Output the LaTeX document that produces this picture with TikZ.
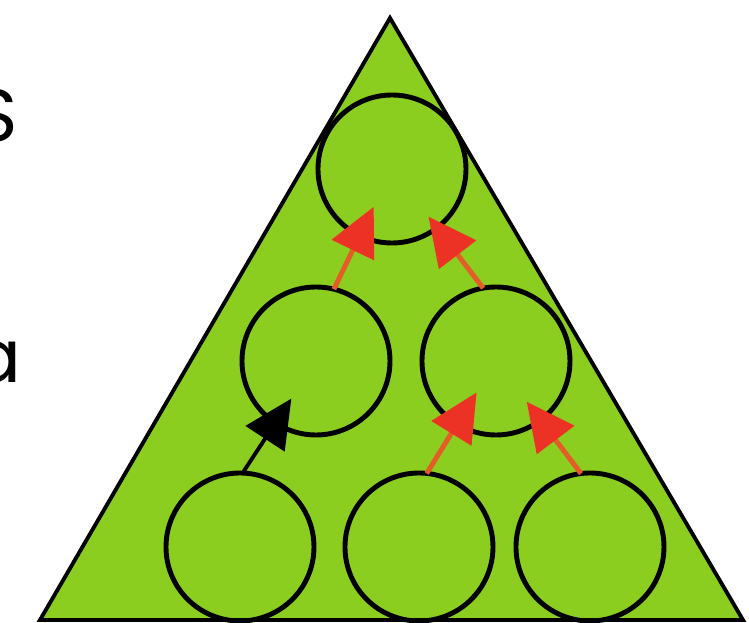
\documentclass[tikz,border=0pt]{standalone}
\usepackage{fontspec}
\newfontfamily\letterfont{Poppins}
\usetikzlibrary{arrows.meta}
\definecolor{leaf_green}{RGB}{140, 206, 32}
\definecolor{arrow_red}{RGB}{236, 50, 36}
\definecolor{shaft_orange}{RGB}{228, 92, 40}

\begin{document}
\begin{tikzpicture}[
    ball/.style={circle, draw=black, line width=1.4pt,
                minimum size=1.48cm, inner sep=0pt, outer sep=0pt},
    tri/.style={draw=black, line width=1.1pt, fill=leaf_green, line join=miter},
    uparr/.style={line width=1.4pt, shaft_orange,
                -{Triangle[length=0.48cm, width=0.46cm, color=arrow_red]}},
    blkarr/.style={line width=1.1pt, black,
                -{Triangle[length=0.48cm, width=0.46cm]}},
    lettr/.style={font=\letterfont\fontsize{21}{25}\selectfont,
                inner sep=0pt, anchor=base east},
]
\useasboundingbox (0,0) rectangle (7.49,6.23);
\fill[white] (0,0) rectangle (7.49,6.23);

% cut-off letters at the left edge
\node[lettr] (s) at (0.19,4.81) {S};
\node[lettr] (a) at (0.22,2.40) {a};

% the triangle
\coordinate (left)  at (0.40,0.03);
\coordinate (apex)  at (3.90,6.05);
\coordinate (right) at (7.43,0.03);
\draw[tri] (left) -- (apex) -- (right) -- cycle;

% circles, row by row
\node[ball] (top) at (3.92,4.54) {};
\node[ball] (ml)  at (3.16,2.62) {};
\node[ball] (mr)  at (4.96,2.62) {};
\node[ball] (bl)  at (2.40,0.76) {};
\node[ball] (bm)  at (4.19,0.76) {};
\node[ball] (br)  at (5.90,0.76) {};

% arrows
\draw[uparr, shorten >=0.37cm] (bm.84)  -- (mr.center);
\draw[uparr, shorten >=0.51cm] (br.97)  -- (mr.center);
\draw[uparr, shorten >=0.42cm] (ml.76)  -- (top.center);
\draw[uparr, shorten >=0.60cm] (mr.100) -- (top.center);
\draw[blkarr, shorten >=0.45cm] (bl.88) -- (ml.center);
\end{tikzpicture}
\end{document}
